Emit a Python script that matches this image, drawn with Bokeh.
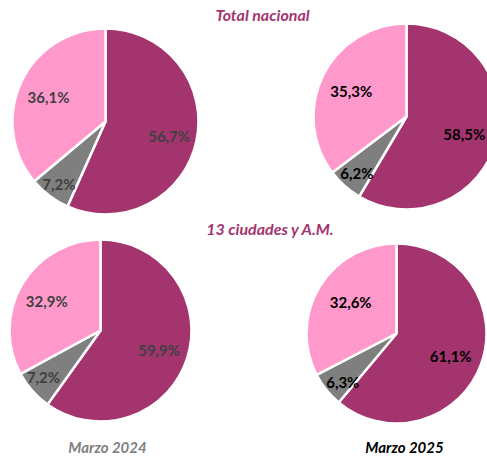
import numpy as np
from bokeh.plotting import figure
from bokeh.models import Range1d, ColumnDataSource
from bokeh.embed import file_html
from bokeh.resources import INLINE
from bokeh.core.properties import value

# ---- data ----
categories = ["Ocupados", "Desocupados", "Fuera de la fuerza laboral"]
total_2024 = [56.7, 7.2, 36.1]
total_2025 = [58.5, 6.2, 35.3]
ciud_2024 = [59.9, 7.2, 32.9]
ciud_2025 = [61.1, 6.3, 32.6]
section_titles = ["Total nacional", "13 ciudades y A.M."]
period_labels = ["Marzo 2024", "Marzo 2025"]

colors = ["#A3346E", "#7F7F7F", "#FF99CC"]

W, H = 487, 456
FONT = "Lato"

p = figure(width=W, height=H, output_backend="svg", toolbar_location=None,
           x_range=Range1d(0, W), y_range=Range1d(0, H),
           min_border=0)
p.axis.visible = False
p.grid.visible = False
p.outline_line_color = None
p.background_fill_color = "white"
p.border_fill_color = "white"

def Y(y):
    return H - y

# layout: (cx, cy, r, label color, label nudges)
pies = [
    (total_2024, 105, 121, 93, "#404040", [(0, 1), (1, -1), (2, 3)]),
    (total_2025, 406, 116, 93, "#000000", [(-5, 0), (3, -2), (3, 4)]),
    (ciud_2024, 100, 330, 91, "#404040", [(-2, 0), (1, -5), (1, 3)]),
    (ciud_2025, 396, 333, 90, "#000000", [(-5, 1), (6, 1), (8, 1)]),
]
label_factor = [0.7, 0.85, 0.7]

for vals, cx, cy, r, lcol, nudges in pies:
    v = np.array(vals, dtype=float)
    frac = v / v.sum()
    cum = np.concatenate([[0], np.cumsum(frac)])
    start = np.pi / 2 - 2 * np.pi * cum[:-1]
    end = np.pi / 2 - 2 * np.pi * cum[1:]
    mid = (start + end) / 2
    src = ColumnDataSource(dict(
        x=[cx] * 3, y=[Y(cy)] * 3, start=start, end=end, color=colors,
        cat=categories, val=vals))
    p.wedge(x="x", y="y", radius=r, start_angle="start", end_angle="end",
            direction="clock", fill_color="color", line_color="white",
            line_width=2.5, source=src)
    lx = [cx + label_factor[i] * r * np.cos(mid[i]) + nudges[i][0] for i in range(3)]
    ly = [Y(cy) + label_factor[i] * r * np.sin(mid[i]) - nudges[i][1] for i in range(3)]
    txt = [f"{x:.1f}%".replace(".", ",") for x in vals]
    p.text(x=lx, y=ly, text=txt, text_align="center", text_baseline="middle",
           text_font=value(FONT), text_font_style="bold", text_font_size="15px",
           text_color=lcol)

# titles
p.text(x=[262, 270], y=[Y(14), Y(228)], text=section_titles, text_align="center",
       text_baseline="middle", text_font=value(FONT), text_font_style="bold italic",
       text_font_size="16px", text_color="#A3346E")
p.text(x=[107], y=[Y(446)], text=[period_labels[0]], text_align="center",
       text_baseline="middle", text_font=value(FONT), text_font_style="bold italic",
       text_font_size="15px", text_color="#808080")
p.text(x=[404], y=[Y(446)], text=[period_labels[1]], text_align="center",
       text_baseline="middle", text_font=value(FONT), text_font_style="bold italic",
       text_font_size="15px", text_color="#000000")

open("out.html", "w").write(file_html(p, INLINE))
